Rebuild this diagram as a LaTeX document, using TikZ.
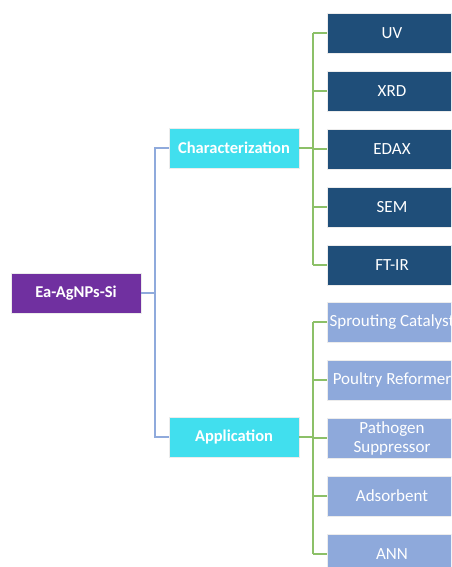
\documentclass[tikz,border=0pt]{standalone}
\usepackage{fontspec}
\setmainfont{Carlito}
\definecolor{rootcol}{HTML}{7030A0}
\definecolor{midcol}{HTML}{41DFEE}
\definecolor{charcol}{HTML}{1F4E79}
\definecolor{appcol}{HTML}{8EA9DB}
\definecolor{bluelink}{HTML}{8FAADC}
\definecolor{greenlink}{HTML}{8CC068}
\begin{document}
\begin{tikzpicture}[x=1pt,y=-1pt,
  box/.style={draw=white!85!gray, line width=0.6pt, minimum height=40pt, align=center, text=white, inner sep=0pt},
  rootbox/.style={box, fill=rootcol, minimum width=130pt, font=\fontsize{16.5}{19}\selectfont\bfseries},
  midbox/.style={box, fill=midcol, minimum width=130pt, font=\fontsize{16.5}{19}\selectfont\bfseries},
  charleaf/.style={box, fill=charcol, minimum width=130pt, font=\fontsize{17}{19}\selectfont},
  appleaf/.style={box, fill=appcol, minimum width=130pt, font=\fontsize{17}{19}\selectfont},
  blink/.style={draw=bluelink, line width=1.5pt},
  glink/.style={draw=greenlink, line width=1.5pt}]
\useasboundingbox (0,0) rectangle (451,567);
\clip (0,0) rectangle (451,567);

% tree nodes
\node[rootbox] (root) at (76,293) {Ea-AgNPs-Si};
\node[midbox] (char) at (234,148) {Characterization};
\node[midbox] (app) at (234,437) {Application};

\node[charleaf] (uv) at (392,33) {UV};
\node[charleaf] (xrd) at (392,91) {XRD};
\node[charleaf] (edax) at (392,149) {EDAX};
\node[charleaf] (sem) at (392,207) {SEM};
\node[charleaf] (ftir) at (392,265) {FT-IR};

\node[appleaf] (sprout) at (392,322) {Sprouting Catalyst};
\node[appleaf] (poultry) at (392,380) {Poultry Reformer};
\node[appleaf] (patho) at (392,438) {Pathogen\\Suppressor};
\node[appleaf] (adsorb) at (392,496) {Adsorbent};
\node[appleaf] (ann) at (392,554) {ANN};

% elbow connectors
\coordinate (bx) at (155,0);
\coordinate (gx) at (313,0);
\draw[blink] (root.east) -- (root.east -| bx);
\draw[blink] (char.west) -- (char.west -| bx) -- (app.west -| bx) -- (app.west);

\draw[glink] (char.east) -- (char.east -| gx);
\foreach \n in {uv,xrd,edax,sem,ftir}
  \draw[glink] (\n.west) -- (\n.west -| gx);
\draw[glink] (uv.west -| gx) -- (ftir.west -| gx);

\draw[glink] (app.east) -- (app.east -| gx);
\foreach \n in {sprout,poultry,patho,adsorb,ann}
  \draw[glink] (\n.west) -- (\n.west -| gx);
\draw[glink] (sprout.west -| gx) -- (ann.west -| gx);
\end{tikzpicture}
\end{document}
